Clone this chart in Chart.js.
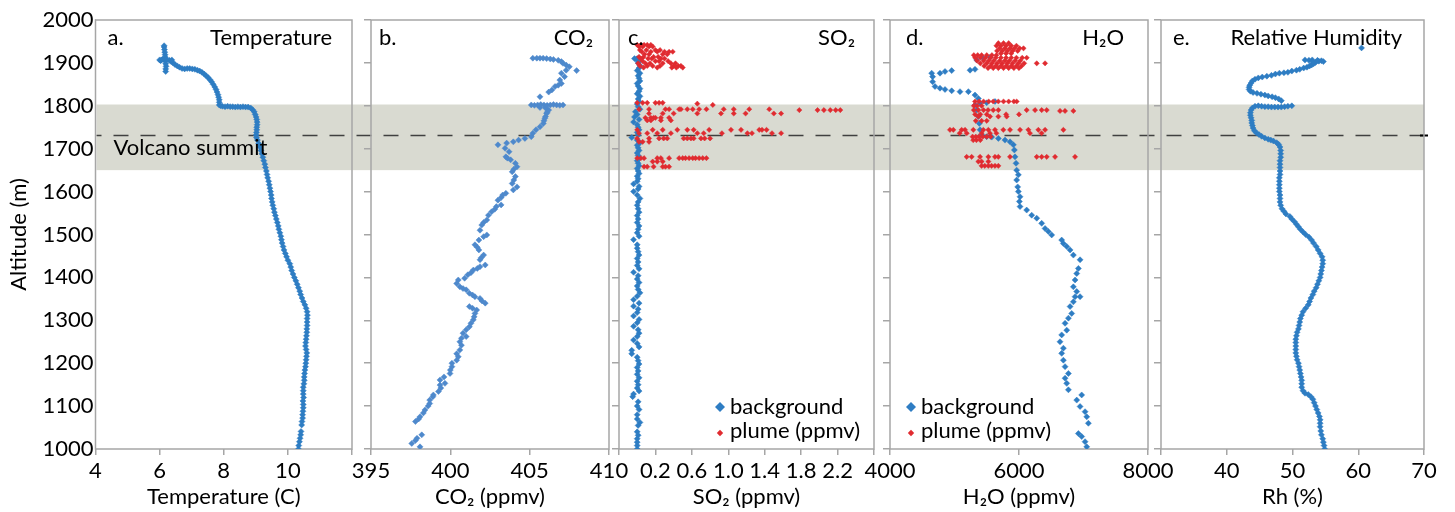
<!DOCTYPE html>
<html><head><meta charset="utf-8">
<script src="https://cdn.jsdelivr.net/npm/chart.js@4.4.0/dist/chart.umd.min.js"></script>
<style>
html,body{margin:0;padding:0;background:#fff;width:1455px;height:512px;overflow:hidden}
canvas{position:absolute;left:0;top:0}
</style></head><body>
<canvas id="ca" width="1455" height="512"></canvas>
<canvas id="cb" width="1455" height="512"></canvas>
<canvas id="cc" width="1455" height="512"></canvas>
<canvas id="cd" width="1455" height="512"></canvas>
<canvas id="ce" width="1455" height="512"></canvas>
<script>
// ---------------- DATA ----------------
const altitudeRange = [1000, 2000];
const bandRange = [1650, 1803];
const summitAlt = 1733;

// [temperature C, altitude m]
const temperature = [[10.33,1000],[10.34,1008],[10.36,1017],[10.38,1025],[10.40,1033],[10.41,1041],[10.43,1056],[10.44,1064],[10.46,1072],[10.46,1080],[10.47,1088],[10.48,1096],[10.48,1104],[10.47,1112],[10.49,1120],[10.48,1128],[10.48,1136],[10.48,1144],[10.50,1152],[10.51,1160],[10.51,1168],[10.52,1176],[10.53,1184],[10.55,1192],[10.56,1200],[10.57,1208],[10.58,1216],[10.59,1224],[10.57,1232],[10.55,1240],[10.56,1248],[10.57,1256],[10.58,1264],[10.59,1272],[10.59,1280],[10.60,1288],[10.60,1296],[10.60,1304],[10.61,1312],[10.60,1320],[10.57,1328],[10.53,1336],[10.48,1344],[10.44,1352],[10.40,1360],[10.37,1368],[10.33,1376],[10.29,1384],[10.25,1392],[10.20,1400],[10.16,1408],[10.12,1416],[10.09,1424],[10.06,1432],[10.00,1440],[9.96,1448],[9.92,1456],[9.88,1464],[9.85,1472],[9.82,1480],[9.80,1488],[9.78,1496],[9.75,1504],[9.72,1512],[9.70,1520],[9.67,1528],[9.64,1536],[9.61,1544],[9.58,1552],[9.56,1560],[9.53,1568],[9.51,1576],[9.49,1584],[9.48,1592],[9.46,1600],[9.44,1608],[9.42,1616],[9.40,1624],[9.37,1632],[9.35,1640],[9.33,1648],[9.30,1656],[9.28,1664],[9.25,1672],[9.22,1680],[9.19,1688],[9.16,1696],[9.13,1704],[9.09,1712],[9.05,1720],[9.02,1726],[9.01,1732],[9.02,1738],[9.03,1744],[9.03,1750],[9.04,1756],[9.04,1762],[9.03,1768],[9.01,1774],[8.98,1780],[8.95,1786],[8.90,1791],[8.84,1795],[8.76,1797],[8.68,1797],[8.60,1798],[8.52,1797],[8.44,1798],[8.36,1797],[8.28,1798],[8.20,1798],[8.12,1799],[8.04,1798],[7.96,1799],[7.90,1800],[7.86,1802],[7.86,1808],[7.86,1814],[7.84,1820],[7.82,1826],[7.79,1832],[7.76,1838],[7.72,1844],[7.67,1850],[7.62,1856],[7.57,1861],[7.51,1866],[7.45,1870],[7.39,1874],[7.32,1878],[7.25,1881],[7.18,1883],[7.10,1885],[7.02,1886],[6.94,1887],[6.86,1887],[6.78,1886],[6.70,1887],[6.62,1890],[6.55,1893],[6.48,1896],[6.42,1900],[6.36,1903],[6.30,1906],[6.22,1907],[6.14,1907],[6.06,1907],[6.00,1907],[6.03,1905],[6.10,1909],[6.38,1907],[6.19,1880],[6.19,1886],[6.20,1892],[6.19,1898],[6.18,1913],[6.17,1919],[6.16,1925],[6.15,1931],[6.14,1937],[6.14,1940]];

// [CO2 ppmv, altitude m]
const co2 = [[397.57,1013],[398.09,1005],[397.8,1020],[397.9,1025],[398.2,1033],[397.8,1064],[398.0,1070],[398.09,1075],[398.3,1084],[398.4,1091],[398.6,1100],[398.7,1106],[398.7,1114],[398.9,1122],[398.93,1126],[399.25,1134],[399.4,1142],[399.35,1149],[399.66,1153],[399.35,1161],[399.6,1168],[399.98,1176],[400.0,1184],[400.1,1192],[400.1,1200],[400.4,1207],[400.5,1215],[400.4,1222],[400.6,1231],[400.7,1242],[400.6,1250],[400.7,1258],[401.0,1262],[400.8,1270],[401.0,1278],[401.2,1285],[401.3,1293],[401.45,1301],[401.5,1308],[401.55,1316],[401.66,1324],[401.2,1332],[401.4,1328],[402.2,1340],[402.0,1345],[401.87,1351],[401.55,1355],[401.4,1359],[401.2,1363],[401.0,1371],[400.8,1374],[400.6,1378],[400.4,1386],[400.5,1394],[400.9,1398],[401.1,1406],[401.3,1411],[401.45,1417],[401.7,1421],[401.87,1425],[402.2,1429],[401.87,1441],[401.95,1446],[402.1,1452],[401.8,1464],[401.7,1470],[401.55,1476],[401.8,1487],[402.1,1495],[402.3,1499],[401.87,1510],[401.98,1522],[402.1,1528],[402.3,1534],[402.4,1545],[402.6,1553],[402.8,1559],[402.9,1565],[403.2,1569],[403.0,1580],[403.2,1586],[403.3,1592],[403.5,1596],[403.97,1604],[404.2,1611],[403.9,1619],[404.0,1627],[404.1,1635],[403.9,1646],[404.0,1652],[404.2,1658],[404.1,1666],[403.8,1674],[403.6,1678],[403.5,1681],[403.7,1693],[403.45,1701],[403.0,1709],[403.55,1713],[403.97,1716],[404.3,1720],[404.7,1724],[405.1,1728],[405.2,1736],[405.4,1744],[405.65,1751],[405.86,1759],[405.9,1765],[405.96,1771],[406.0,1775],[406.07,1782],[406.1,1785],[406.2,1790],[406.0,1795],[405.65,1796],[405.1,1802],[405.3,1801],[405.5,1802],[405.7,1803],[405.9,1802],[406.1,1801],[406.3,1802],[406.5,1803],[406.7,1802],[406.9,1801],[407.1,1802],[405.65,1821],[406.2,1832],[406.4,1837],[406.6,1845],[406.8,1848],[407.0,1852],[406.9,1860],[407.2,1868],[407.0,1876],[407.3,1883],[407.96,1882],[407.5,1891],[407.3,1895],[407.1,1899],[407.0,1903],[406.8,1906],[406.5,1908],[406.3,1909],[406.07,1910],[405.85,1911],[405.65,1911],[405.45,1911],[405.2,1911]];

// [SO2 ppmv, altitude m]
const so2Background = [[0.00,1000],[0.00,1008],[0.00,1016],[0.00,1024],[0.01,1032],[0.00,1040],[0.01,1055],[0.03,1062],[0.00,1070],[0.00,1080],[0.02,1092],[0.00,1100],[0.01,1110],[-0.05,1122],[-0.04,1128],[0.02,1135],[0.00,1142],[0.01,1150],[0.00,1158],[0.02,1166],[0.00,1174],[0.01,1182],[0.00,1190],[0.02,1198],[0.01,1206],[0.00,1214],[-0.06,1222],[-0.06,1230],[0.02,1238],[0.00,1246],[-0.04,1254],[0.00,1262],[0.02,1270],[0.01,1278],[-0.04,1286],[0.00,1294],[0.02,1302],[-0.04,1310],[0.00,1318],[0.01,1326],[-0.04,1333],[0.02,1340],[-0.04,1348],[0.00,1356],[0.03,1364],[0.01,1372],[0.00,1380],[0.02,1388],[0.00,1396],[0.01,1404],[-0.04,1412],[0.02,1420],[0.00,1428],[0.01,1436],[0.00,1444],[0.02,1452],[0.01,1460],[0.00,1468],[0.00,1476],[-0.04,1488],[0.02,1496],[0.00,1504],[0.01,1512],[0.02,1520],[0.00,1528],[0.01,1536],[0.00,1544],[0.02,1552],[0.01,1560],[0.00,1568],[0.01,1576],[0.03,1584],[0.00,1592],[-0.04,1600],[0.01,1606],[0.02,1612],[-0.04,1618],[0.00,1624],[0.01,1630],[0.00,1636],[0.02,1642],[0.01,1648],[0.00,1654],[0.02,1660],[0.01,1666],[0.00,1672],[0.02,1678],[0.01,1684],[0.00,1690],[0.02,1696],[0.01,1702],[0.00,1708],[0.03,1714],[0.00,1720],[-0.06,1726],[0.01,1732],[0.00,1738],[0.02,1744],[0.01,1750],[0.00,1756],[-0.04,1762],[0.02,1768],[-0.03,1774],[0.00,1780],[-0.02,1786],[0.03,1792],[0.01,1798],[0.00,1804],[0.02,1810],[0.01,1816],[0.03,1822],[0.00,1828],[0.02,1834],[0.03,1840],[0.01,1846],[0.00,1852],[0.03,1858],[0.02,1864],[0.01,1870],[0.03,1876],[0.00,1882],[0.02,1888],[0.03,1894],[0.01,1900],[0.03,1906],[-0.03,1910],[0.00,1910],[-0.01,1908]];
const so2Plume = [[0.00,1942],[0.04,1942],[0.075,1942],[0.11,1942],[0.15,1942],[0.02,1938],[0.06,1938],[0.13,1938],[0.17,1938],[0.03,1930],[0.10,1930],[0.20,1930],[0.25,1930],[0.05,1926],[0.15,1926],[0.22,1926],[0.30,1926],[0.35,1926],[0.39,1926],[0.08,1920],[0.13,1920],[0.28,1920],[0.33,1920],[0.02,1914],[0.07,1914],[0.18,1914],[0.23,1914],[0.04,1910],[0.12,1910],[0.16,1910],[0.26,1910],[0.30,1910],[0.06,1904],[0.20,1904],[0.24,1904],[0.34,1904],[0.01,1899],[0.09,1899],[0.14,1899],[0.28,1899],[0.37,1899],[0.42,1899],[0.03,1893],[0.11,1893],[0.17,1893],[0.25,1893],[0.40,1893],[0.45,1893],[0.48,1893],[0.07,1889],[0.22,1889],[0.38,1889],[0.43,1889],[0.50,1889],
[0.00,1807],[0.06,1807],[0.11,1807],[0.20,1807],[0.24,1807],[0.28,1807],[0.66,1805],[0.83,1802],
[0.02,1792],[0.13,1792],[0.31,1792],[0.35,1792],[0.46,1792],[0.48,1792],[0.55,1792],[0.61,1792],[0.68,1792],[0.76,1792],[0.95,1792],[1.06,1792],[1.23,1792],[1.45,1792],[1.78,1790],[1.98,1790],[2.05,1790],[2.12,1790],[2.18,1790],[2.23,1790],
[0.13,1782],[0.28,1782],[0.40,1782],[0.66,1782],[0.92,1782],[1.06,1782],[1.19,1782],[1.50,1782],[1.58,1782],
[0.09,1772],[0.15,1772],[0.18,1772],[0.20,1772],[0.26,1772],[0.35,1772],[0.11,1766],[0.15,1766],[0.26,1766],[0.37,1766],
[0.00,1744],[0.17,1744],[0.28,1744],[0.44,1744],[0.55,1744],[0.62,1744],[0.79,1744],[1.03,1744],[1.14,1744],[1.34,1744],[1.37,1744],[1.42,1744],
[0.02,1736],[0.11,1736],[0.22,1736],[0.37,1736],[0.66,1736],[0.73,1736],[0.93,1736],[1.21,1736],[1.26,1736],[1.48,1736],[1.58,1736],
[0.00,1724],[0.13,1724],[0.24,1724],[0.29,1724],[0.33,1724],[0.51,1724],[0.55,1724],[0.59,1724],[0.62,1724],[0.70,1724],[0.74,1724],[0.80,1724],
[0.02,1716],[0.06,1716],[0.13,1716],
[0.00,1678],[0.04,1678],[0.075,1678],[0.22,1678],[0.26,1678],[0.35,1678],[0.46,1678],[0.50,1678],[0.53,1678],[0.57,1678],[0.61,1678],[0.64,1678],[0.68,1678],[0.72,1678],[0.76,1678],
[0.17,1670],[0.22,1670],[0.28,1670],[0.075,1658],[0.11,1658],[0.18,1658],[0.28,1658],[0.31,1658],[0.35,1658]];

// [H2O ppmv, altitude m]
const h2oBackground = [[7050,1005],[7024,1017],[6972,1029],[6921,1036],[7076,1060],[7050,1075],[7024,1087],[6947,1099],[6895,1114],[6972,1126],[6766,1138],[6740,1153],[6714,1165],[6766,1176],[6714,1192],[6688,1207],[6662,1223],[6688,1235],[6636,1250],[6662,1266],[6740,1277],[6714,1293],[6766,1305],[6817,1316],[6792,1332],[6843,1343],[6869,1355],[6947,1355],[6895,1367],[6843,1378],[6869,1394],[6895,1409],[6921,1421],[6947,1441],[6843,1452],[6792,1464],[6740,1472],[6688,1479],[6662,1487],[6507,1499],[6455,1507],[6404,1514],[6352,1526],[6275,1538],[6197,1545],[6119,1557],[6016,1565],[6006,1577],[6016,1588],[5990,1600],[5980,1611],[5964,1627],[5990,1639],[5964,1650],[5954,1666],[5938,1681],[5928,1697],[5913,1709],[5861,1716],[5783,1720],[5680,1724],[5577,1727],[5499,1728],[5421,1732],[5396,1744],[5385,1759],[5370,1775],[5344,1790],[5318,1802],[5396,1806],[5499,1807],[5628,1810],[5370,1817],[5318,1825],[5215,1833],[5085,1833],[4956,1835],[4853,1838],[4775,1841],[4698,1845],[4661,1856],[4661,1868],[4646,1876],[4775,1876],[4853,1880],[4956,1882],[5241,1883],[5318,1885],[5344,1907],[5447,1911],[5551,1913]];
const h2oPlume = [[5680,1946],[5760,1946],[5840,1946],[5650,1940],[5720,1940],[5800,1940],[5880,1940],[5960,1940],[5700,1934],[5780,1934],[5860,1934],[5930,1934],[6010,1934],[6070,1934],[5660,1928],[5740,1928],[5820,1928],[5900,1928],[5980,1928],[5720,1922],[5800,1922],[5880,1922],
[5300,1918],[5360,1918],[5420,1918],[5500,1918],[5580,1918],[5650,1918],[5320,1912],[5400,1912],[5480,1912],[5560,1912],[5640,1912],[5720,1912],[5800,1912],[5880,1912],[5960,1912],[6050,1912],[6120,1912],[5350,1905],[5450,1905],[5530,1905],[5610,1905],[5700,1905],[5780,1905],[5850,1905],[5940,1905],[6020,1905],[5400,1899],[5500,1899],[5580,1899],[5660,1899],[5740,1899],[5820,1899],[5900,1899],[5990,1899],[6080,1899],[6275,1899],[6404,1899],[5460,1893],[5560,1893],[5640,1893],[5720,1893],[5800,1893],[5880,1893],[5960,1893],[6040,1893],[5520,1888],[5600,1888],[5680,1888],[5760,1888],[5840,1888],[5920,1888],[6000,1888],
[5318,1810],[5380,1810],[5450,1810],[5530,1810],[5600,1810],[5680,1810],[5760,1810],[5840,1810],[5920,1810],[5964,1810],[5300,1800],[5350,1800],[5420,1800],
[5300,1790],[5370,1790],[5450,1790],[5520,1790],[5600,1790],[5680,1790],[6119,1790],[6249,1790],[6352,1790],[6430,1790],[6636,1788],[6714,1788],[6843,1788],
[5320,1780],[5400,1780],[5500,1780],[5800,1780],[6000,1780],[5370,1775],[5551,1775],[5680,1775],[5809,1775],[5330,1765],[5420,1765],[5500,1765],
[4930,1744],[4982,1744],[5111,1744],[5163,1744],[5292,1744],[5447,1744],[5525,1744],[5628,1744],[5757,1744],[5861,1744],[6016,1744],[6145,1744],[6300,1744],[6404,1744],[6688,1744],
[5080,1736],[5190,1736],[5420,1736],[5550,1736],[5650,1736],[6170,1736],[6350,1736],[5280,1728],[5330,1728],[5380,1728],[5440,1728],[5500,1728],[5560,1728],[5290,1720],[5340,1720],[5400,1720],
[5189,1681],[5266,1681],[5396,1681],[5525,1681],[5628,1681],[5680,1681],[5861,1681],[6275,1681],[6352,1681],[6430,1681],[6559,1681],[6869,1681],[5370,1670],[5420,1670],[5525,1670],[5420,1660],[5470,1660],[5525,1660],[5575,1660],[5628,1660],[5680,1660]];

// [Rh %, altitude m]
const humidity = [[54.9,1000],[54.8,1008],[54.7,1016],[54.6,1024],[54.4,1033],[54.3,1042],[54.2,1052],[54.2,1060],[54.2,1068],[54.1,1076],[53.9,1084],[53.7,1092],[53.5,1100],[53.3,1108],[53.1,1116],[52.8,1122],[52.4,1127],[51.9,1130],[51.6,1136],[51.4,1144],[51.4,1152],[51.4,1160],[51.3,1168],[51.2,1176],[51.1,1184],[51.0,1192],[50.9,1200],[50.7,1208],[50.6,1216],[50.5,1224],[50.5,1232],[50.5,1240],[50.5,1248],[50.5,1256],[50.6,1264],[50.7,1272],[50.9,1280],[51.0,1288],[51.1,1296],[51.2,1304],[51.4,1312],[51.6,1320],[52.0,1328],[52.4,1336],[52.6,1344],[52.8,1352],[53.1,1360],[53.3,1368],[53.6,1376],[53.8,1384],[54.0,1392],[54.2,1400],[54.3,1408],[54.4,1416],[54.5,1424],[54.6,1432],[54.6,1440],[54.5,1448],[54.2,1456],[53.9,1464],[53.6,1472],[53.2,1480],[52.9,1487],[52.5,1494],[52.0,1500],[51.6,1506],[51.2,1512],[50.9,1518],[50.6,1524],[50.3,1530],[49.9,1536],[49.6,1542],[49.0,1548],[48.7,1554],[48.4,1560],[48.2,1568],[48.1,1576],[48.1,1584],[48.1,1592],[48.0,1600],[48.0,1608],[48.0,1616],[48.0,1624],[48.0,1632],[48.1,1640],[48.1,1648],[48.1,1656],[48.1,1664],[48.1,1672],[48.2,1680],[48.2,1688],[48.2,1696],[48.1,1704],[47.9,1710],[47.6,1714],[47.1,1718],[46.7,1720],[46.3,1722],[45.8,1725],[45.3,1729],[44.9,1733],[44.5,1737],[44.2,1742],[44.0,1748],[43.9,1754],[43.8,1760],[43.8,1766],[43.7,1772],[43.6,1778],[43.6,1784],[43.7,1790],[43.9,1795],[44.3,1799],[44.8,1800],[45.3,1799],[45.8,1798],[46.3,1798],[46.8,1797],[47.3,1797],[47.8,1797],[48.3,1797],[48.8,1798],[49.3,1799],[49.9,1800],[48.3,1812],[47.9,1816],[47.4,1819],[46.9,1821],[46.3,1823],[45.8,1825],[45.2,1827],[44.6,1829],[44.0,1831],[43.6,1834],[43.4,1838],[43.4,1843],[43.5,1848],[43.7,1853],[43.9,1858],[44.3,1862],[44.8,1865],[45.4,1867],[46.1,1869],[46.8,1871],[47.4,1874],[48.0,1876],[48.7,1877],[49.3,1878],[49.9,1881],[50.6,1883],[51.1,1885],[51.7,1888],[52.2,1890],[52.6,1893],[52.9,1895],[53.2,1898],[53.5,1901],[54.0,1904],[54.4,1905],[54.7,1903],[53.8,1906],[53.0,1907],[52.5,1906],[51.9,1907],[53.1,1902],[60.5,1935]];

// axis definitions (data ranges and tick steps)
const tempAxis = [4, 12, 2];
const co2Axis = [395, 410, 5];
const so2Axis = [-0.2, 2.6, 0.4];
const h2oAxis = [4000, 8000, 2000];
const rhAxis = [30, 70, 10];

// ---------------- STYLE / LAYOUT ----------------
const FONT = 'Lato, "Open Sans", "DejaVu Sans", sans-serif';
const FS = 22;
const GRAY = '#A6A6A6';
const BLUE = 'rgb(46,125,195)';
const BLUE_B = 'rgb(78,137,204)';
const RED = 'rgb(224,43,48)';
const BAND = '#D9DAD1';
const W = 1455, H = 512, TOP = 20, XAXIS_H = 63;
const FIG_RIGHT = 1424;

Chart.defaults.font.family = FONT;
Chart.defaults.font.size = FS;
Chart.defaults.color = '#000';

function toPts(arr){ return arr.map(p => ({x: p[0], y: p[1]})); }

function diamond(ctx, x, y, r, color){
  ctx.beginPath();
  ctx.moveTo(x, y - r); ctx.lineTo(x + r, y); ctx.lineTo(x, y + r); ctx.lineTo(x - r, y); ctx.closePath();
  ctx.fillStyle = color; ctx.fill();
}

const decor = {
  id: 'decor',
  beforeDatasetsDraw(chart, args, o) {
    const {ctx, chartArea: ca, scales: {y}} = chart;
    ctx.save();
    if (o.overlay) {
      const yTop = y.getPixelForValue(bandRange[1]);
      const yBot = y.getPixelForValue(bandRange[0]);
      ctx.fillStyle = BAND;
      ctx.fillRect(ca.left + 1, yTop, FIG_RIGHT - ca.left - 1, yBot - yTop);
      const ys = Math.round(y.getPixelForValue(summitAlt)) + 0.5;
      ctx.strokeStyle = '#404040'; ctx.lineWidth = 1.5;
      ctx.setLineDash([15, 12]); ctx.lineDashOffset = 10;
      ctx.beginPath(); ctx.moveTo(ca.left + 1, ys); ctx.lineTo(FIG_RIGHT + 4, ys); ctx.stroke();
      ctx.setLineDash([]);
      ctx.strokeStyle = '#000'; ctx.lineWidth = 2;
      ctx.beginPath(); ctx.moveTo(FIG_RIGHT - 4, ys); ctx.lineTo(FIG_RIGHT + 4, ys); ctx.stroke();
    }
    ctx.strokeStyle = GRAY; ctx.lineWidth = 1.5;
    ctx.strokeRect(ca.left, ca.top, ca.right - ca.left, ca.bottom - ca.top);
    ctx.restore();
  },
  afterDatasetsDraw(chart, args, o) {
    const {ctx, chartArea: ca} = chart;
    ctx.save();
    ctx.font = FS + 'px ' + FONT;
    ctx.fillStyle = '#000';
    ctx.textBaseline = 'alphabetic';
    ctx.textAlign = 'left';
    ctx.fillText(o.letter, ca.left + o.letterDx, ca.top + 25);
    ctx.textAlign = 'right';
    ctx.fillText(o.title, ca.right - o.titlePad, ca.top + 25);
    if (o.summit) {
      ctx.textAlign = 'left';
      ctx.fillText(o.summit, ca.left + 18, chart.scales.y.getPixelForValue(summitAlt) + 20);
    }
    if (o.legend) {
      const ds = chart.data.datasets;
      ctx.textAlign = 'left';
      const rows = [[ds[1], ca.bottom - 42, ca.bottom - 35, 5], [ds[0], ca.bottom - 16, ca.bottom - 11, 3.2]];
      rows.forEach(([d, my, ty, r]) => {
        diamond(ctx, ca.left + o.legend.mx, my, r, d.backgroundColor);
        ctx.fillStyle = '#000';
        ctx.fillText(d.label, ca.left + o.legend.tx, ty);
      });
    }
    ctx.restore();
  }
};

function makePanel(id, pos, axis, datasets, xTitle, tickFmt, deco, isFirst) {
  const yW = isFirst ? pos.left : 10;
  return new Chart(document.getElementById(id), {
    type: 'scatter',
    data: {datasets},
    plugins: [decor],
    options: {
      responsive: false, animation: false, devicePixelRatio: 1,
      layout: {padding: {left: pos.left - yW, right: W - pos.right, top: TOP, bottom: 0}},
      plugins: {legend: {display: false}, tooltip: {enabled: false}, decor: deco},
      elements: {point: {pointStyle: 'rectRot'}},
      scales: {
        x: {
          type: 'linear', min: axis[0], max: axis[1],
          ticks: {stepSize: axis[2], autoSkip: false, maxRotation: 0, padding: 3, color: '#000',
                  font: {size: FS}, callback: tickFmt},
          grid: {drawOnChartArea: false, drawTicks: true, tickLength: 6, color: GRAY, lineWidth: 1.5},
          border: {display: false},
          title: {display: true, text: xTitle, color: '#000', font: {size: FS}, padding: {top: 0, bottom: 2}},
          afterFit: s => { s.height = XAXIS_H; }
        },
        y: {
          type: 'linear', min: altitudeRange[0], max: altitudeRange[1],
          ticks: {stepSize: 100, display: isFirst, padding: 2, color: '#000', font: {size: FS},
                  callback: v => String(v)},
          grid: {drawOnChartArea: false, drawTicks: true, tickLength: isFirst ? 0 : 7, color: GRAY, lineWidth: 1.5},
          border: {display: false},
          title: {display: isFirst, text: 'Altitude (m)', color: '#000', font: {size: FS}, padding: {top: 6, bottom: 0}},
          afterFit: s => { s.width = yW; }
        }
      }
    }
  });
}

function bgSet(label, data, color, r) {
  return {label, data: toPts(data), backgroundColor: color, borderColor: color, borderWidth: 0.5,
          pointRadius: r || 3, pointStyle: 'rectRot', order: 1};
}
function plumeSet(label, data) {
  return {label, data: toPts(data), backgroundColor: RED, borderColor: RED, borderWidth: 0.5,
          pointRadius: 2.6, pointStyle: 'rectRot', order: 0};
}

const fmt = v => String(v);

makePanel('ca', {left: 95.5, right: 352}, tempAxis,
  [bgSet('Temperature', temperature, BLUE)], 'Temperature (C)',
  v => (v >= 12 ? '' : String(v)),
  {letter: 'a.', letterDx: 12, title: 'Temperature', titlePad: 20, overlay: true, summit: 'Volcano summit'}, true);

makePanel('cb', {left: 371, right: 609}, co2Axis,
  [bgSet('CO₂', co2, BLUE_B)], 'CO₂ (ppmv)', fmt,
  {letter: 'b.', letterDx: 8, title: 'CO₂', titlePad: 16}, false);

makePanel('cc', {left: 619, right: 874}, so2Axis,
  [plumeSet('plume (ppmv)', so2Plume), bgSet('background', so2Background, BLUE)], 'SO₂ (ppmv)',
  v => (v < 0.1 || v > 2.5 ? '' : Number(v).toFixed(1)),
  {letter: 'c.', letterDx: 9, title: 'SO₂', titlePad: 19, legend: {mx: 101, tx: 111}}, false);

makePanel('cd', {left: 890, right: 1148}, h2oAxis,
  [plumeSet('plume (ppmv)', h2oPlume), bgSet('background', h2oBackground, BLUE)], 'H₂O (ppmv)', fmt,
  {letter: 'd.', letterDx: 16, title: 'H₂O', titlePad: 24, legend: {mx: 21, tx: 31}}, false);

makePanel('ce', {left: 1161, right: 1424}, rhAxis,
  [bgSet('Rh', humidity, BLUE)], 'Rh (%)',
  v => (v <= 30 ? '' : String(v)),
  {letter: 'e.', letterDx: 12, title: 'Relative Humidity', titlePad: 22}, false);
</script>
</body></html>
